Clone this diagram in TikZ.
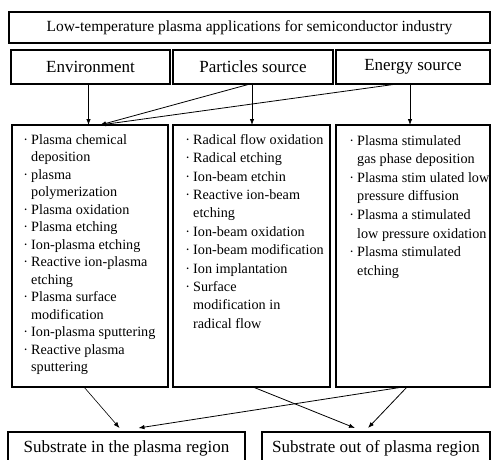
\documentclass[tikz,border=0pt]{standalone}
\usepackage{fontspec}
\setmainfont{Liberation Serif}
\usetikzlibrary{arrows.meta}
\newcommand\bul{\llap{·\hspace{3pt}}}
\tikzset{
  box/.style={draw, line width=1.6pt, inner sep=0pt, outer sep=0pt, anchor=north west},
  head/.style={box, font={\fontsize{17}{20}\selectfont}},
  listtxt/.style={inner sep=0pt, anchor=north west, align=left},
  conn/.style={line width=0.8pt, -{Latex[length=6pt,width=4.5pt]}},
}
\begin{document}
\begin{tikzpicture}[x=1pt, y=-1pt]
\useasboundingbox (0,0) rectangle (491,459);
\clip (0,0) rectangle (491,459);
% top
\node[box, minimum width=481pt, minimum height=31pt, font={\fontsize{15.5}{18}\selectfont}] (title) at (9,12)
  {Low-temperature plasma applications for semiconductor industry};
\node[head, minimum width=159pt, minimum height=34pt] (env) at (11,50) {Environment};
\node[head, minimum width=160pt, minimum height=34pt] (part) at (173,50) {Particles source};
\node[head, minimum width=154pt, minimum height=34pt] (energy) at (336,50) {Energy source};
% list boxes
\node[box, minimum width=156pt, minimum height=262pt] (L) at (12,125) {};
\node[box, minimum width=157pt, minimum height=262pt] (M) at (173,125) {};
\node[box, minimum width=154pt, minimum height=262pt] (R) at (336,125) {};
\node[listtxt, font={\fontsize{14.2}{17.5}\selectfont}] (Ltxt) at (31,134)
 {\bul Plasma chemical\\
  deposition\\
  \bul plasma\\
  polymerization\\
  \bul Plasma oxidation\\
  \bul Plasma etching\\
  \bul Ion-plasma etching\\
  \bul Reactive ion-plasma\\
  etching\\
  \bul Plasma surface\\
  modification\\
  \bul Ion-plasma sputtering\\
  \bul Reactive plasma\\
  sputtering};
\node[listtxt, font={\fontsize{14.2}{18.4}\selectfont}] (Mtxt) at (193,134)
 {\bul Radical flow oxidation\\
  \bul Radical etching\\
  \bul Ion-beam etchin\\
  \bul Reactive ion-beam\\
  etching\\
  \bul Ion-beam oxidation\\
  \bul Ion-beam modification\\
  \bul Ion implantation\\
  \bul Surface\\
  modification in\\
  radical flow};
\node[listtxt, font={\fontsize{14.2}{18.6}\selectfont}] (Rtxt) at (357,135)
 {\bul Plasma stimulated\\
  gas phase deposition\\
  \bul Plasma stim ulated low\\
  pressure diffusion\\
  \bul Plasma a stimulated\\
  low pressure oxidation\\
  \bul Plasma stimulated\\
  etching};
% bottom
\node[head, line width=1.2pt, minimum width=237pt, minimum height=33pt] (S1) at (8,432) {Substrate in the plasma region};
\node[head, line width=1.2pt, minimum width=228pt, minimum height=33pt] (S2) at (262,432) {Substrate out of plasma region};
% connectors top
\draw[conn] ([xshift=-2pt]env.south) -- ([xshift=-2pt]env.south |- L.north);
\draw[conn] ([xshift=-3pt]part.south) -- ([xshift=10pt]L.north);
\draw[conn] ([xshift=-16pt]energy.south) -- ([xshift=10pt]L.north);
\draw[conn] ([xshift=-1pt]part.south) -- ([xshift=-1pt]part.south |- M.north);
\draw[conn] ([xshift=-3pt]energy.south) -- ([xshift=-3pt]energy.south |- R.north);
% connectors bottom
\draw[conn, line width=0.6pt] ([xshift=-6pt]L.south) -- ([xshift=-7pt,yshift=4pt]S1.north);
\draw[conn] ([xshift=-10pt]R.south) -- ([xshift=12pt,yshift=4pt]S1.north);
\draw[conn] ([xshift=1.5pt]M.south) -- ([xshift=-21pt,yshift=4pt]S2.north);
\draw[conn] ([xshift=-6pt]R.south) -- ([xshift=-8pt,yshift=4pt]S2.north);
\end{tikzpicture}
\end{document}
